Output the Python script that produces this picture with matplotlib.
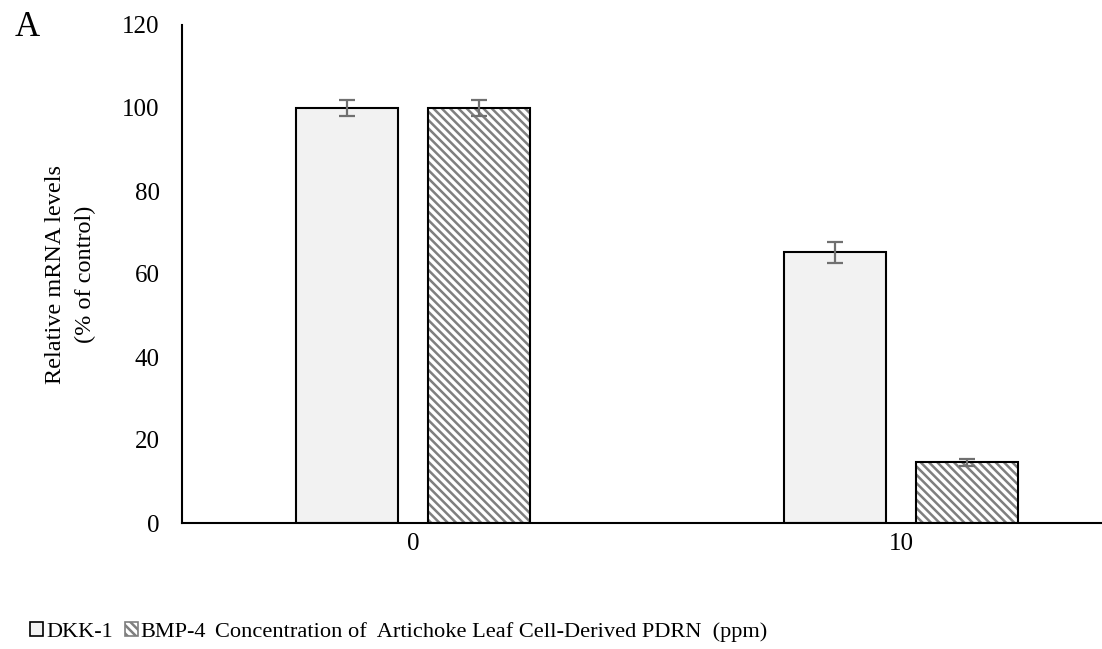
import matplotlib
matplotlib.use("Agg")
import matplotlib.pyplot as plt
import matplotlib.patches as mpatches
import numpy as np

plt.rcParams.update({
    "font.family": ["Liberation Serif", "DejaVu Serif"],
    "font.size": 17.5,
    "hatch.linewidth": 1.8,
})

categories = ["0", "10"]
series = ["DKK-1", "BMP-4"]
dkk_vals = [100.0, 65.2]
dkk_err = [2.0, 2.5]
bmp_vals = [100.0, 14.6]
bmp_err = [2.0, 0.9]

COL_DKK = "#f2f2f2"
COL_HATCH = "#7f7f7f"
COL_ERR = "#707070"

fig = plt.figure(figsize=(11.02, 6.49), dpi=100)
ax = fig.add_axes([182 / 1102, 1 - 523 / 649, 1 - 182 / 1102, (523 - 25) / 649])

x = np.arange(len(categories))
w = 0.209
off = 0.135

ax.bar(x - off, dkk_vals, w, color=COL_DKK, edgecolor="black", linewidth=1.5, zorder=2)
# hatch takes the edge colour, so draw grey hatch first and a black outline over it
ax.bar(x + off, bmp_vals, w, color="white", edgecolor=COL_HATCH, linewidth=0,
       hatch="\\\\\\\\", zorder=2)
ax.bar(x + off, bmp_vals, w, fill=False, edgecolor="black", linewidth=1.5, zorder=2.5)
ax.errorbar(x - off, dkk_vals, yerr=dkk_err, fmt="none", ecolor=COL_ERR,
            elinewidth=1.6, capsize=6, capthick=1.6, zorder=3)
ax.errorbar(x + off, bmp_vals, yerr=bmp_err, fmt="none", ecolor=COL_ERR,
            elinewidth=1.6, capsize=6, capthick=1.6, zorder=3)

ax.set_xlim(-0.4734, 1.4119)
ax.set_ylim(0, 120)
ax.set_yticks(np.arange(0, 121, 20))
ax.set_xticks(x)
ax.set_xticklabels(categories)
ax.tick_params(axis="both", length=0, labelsize=18)
ax.tick_params(axis="y", pad=16)
ax.tick_params(axis="x", pad=7)
for s in ["top", "right"]:
    ax.spines[s].set_visible(False)
ax.spines["left"].set_linewidth(1.5)
ax.spines["bottom"].set_linewidth(1.5)
ax.set_ylabel("Relative mRNA levels\n(% of control)", labelpad=19, linespacing=1.55)

fig.text(15 / 1102, 1 - 27 / 649, "A", fontsize=25, va="center", ha="left")

handles = [
    mpatches.Patch(facecolor=COL_DKK, edgecolor="black", linewidth=1.2, label=series[0]),
    mpatches.Patch(facecolor="white", edgecolor=COL_HATCH, hatch="\\\\\\\\", linewidth=1.2,
                   label=series[1]),
]
fig.legend(handles=handles, loc="center left", bbox_to_anchor=(21 / 1102, 1 - 632 / 649),
           ncol=2, frameon=False, handlelength=0.6, handleheight=0.6,
           handletextpad=0.12, columnspacing=0.55, borderaxespad=0, fontsize=16)
fig.text(215 / 1102, 1 - 632 / 649,
         "Concentration of  Artichoke Leaf Cell-Derived PDRN  (ppm)",
         va="center", ha="left", fontsize=16.1)

fig.savefig("out.png", dpi=100)
